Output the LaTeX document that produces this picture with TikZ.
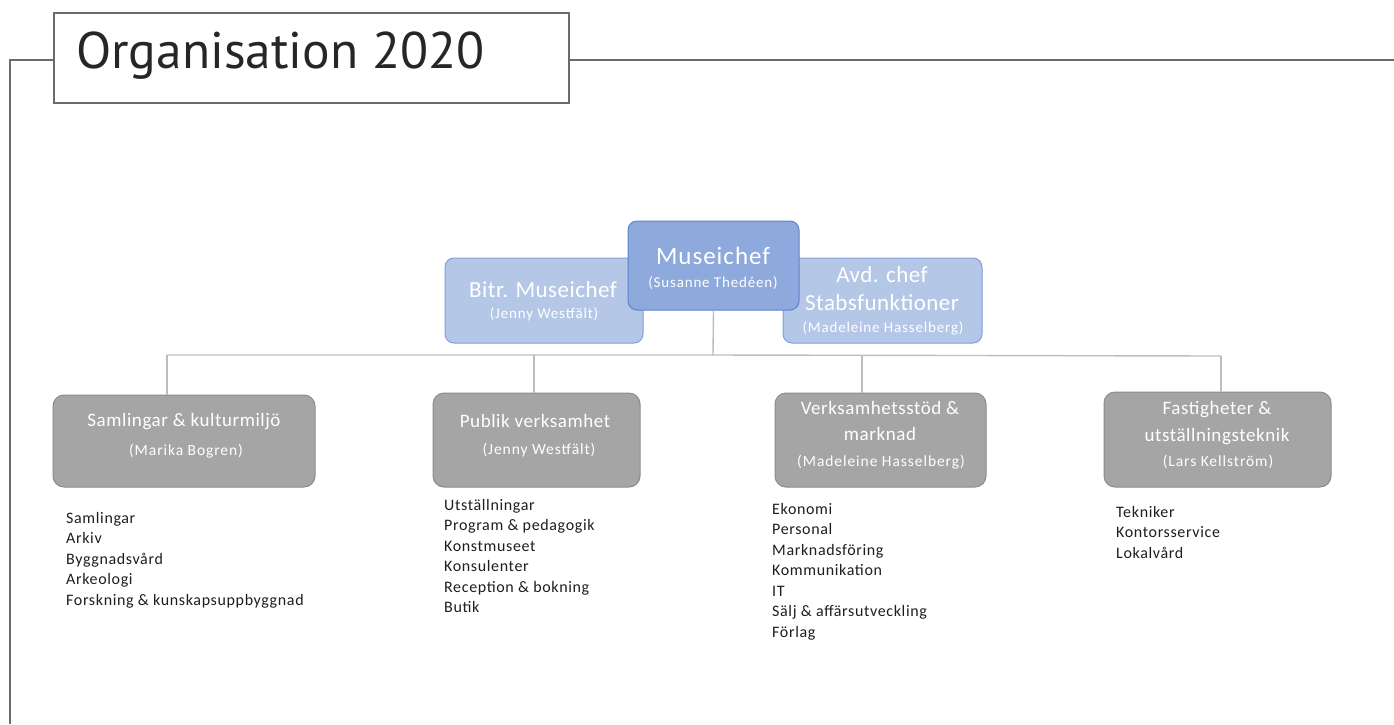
\documentclass[tikz,border=0pt]{standalone}
\usepackage{fontspec}
\setmainfont{Carlito}
\newfontfamily\titlefont{PT Sans}
\definecolor{framegray}{HTML}{6B6B6B}
\definecolor{linkgray}{HTML}{BDBDBD}
\definecolor{bluedark}{HTML}{8EA9DB}
\definecolor{bluedarkb}{HTML}{5B84CF}
\definecolor{bluelight}{HTML}{B4C7E7}
\definecolor{bluelightb}{HTML}{7F9FD8}
\definecolor{boxgray}{HTML}{A5A5A5}
\definecolor{boxgrayb}{HTML}{8C8C8C}
\definecolor{listtext}{HTML}{1E1E1E}
\tikzset{
  frameline/.style={draw=framegray, line width=2.2pt},
  link/.style={draw=linkgray, line width=1.4pt},
  bossbox/.style={draw=bluedarkb, fill=bluedark, line width=1pt, rounded corners=9pt, inner sep=0pt},
  deputybox/.style={draw=bluelightb, fill=bluelight, line width=1pt, rounded corners=9pt, inner sep=0pt},
  deptbox/.style={draw=boxgrayb, fill=boxgray, line width=1pt, rounded corners=11pt, inner sep=0pt},
  boxtext/.style={text=white, align=center, inner sep=0pt},
  bigname/.style={boxtext, font=\fontsize{23}{26}\selectfont\addfontfeature{LetterSpace=2}},
  bossname/.style={boxtext, font=\fontsize{25}{28}\selectfont\addfontfeature{LetterSpace=4}},
  smallname/.style={boxtext, font=\fontsize{15}{17}\selectfont\addfontfeature{LetterSpace=5.6}},
  depttitle/.style={boxtext, font=\fontsize{19}{22}\selectfont\addfontfeature{LetterSpace=3}},
  deptname/.style={boxtext, font=\fontsize{15.5}{17}\selectfont\addfontfeature{LetterSpace=6}},
  listnode/.style={anchor=north west, align=left, inner sep=0pt, text=listtext, font=\fontsize{16}{20.5}\selectfont\addfontfeature{LetterSpace=4}}
}
\begin{document}
\begin{tikzpicture}[x=1pt,y=-1pt]
\useasboundingbox (0,0) rectangle (1394,724);
\fill[white] (0,0) rectangle (1394,724);
% frame
\coordinate (fbl) at (10,724);
\coordinate (ftl) at (10,60);
\coordinate (fr) at (1394,60);
\node[draw=framegray, line width=2.2pt, fill=white, minimum width=515pt, minimum height=90pt, inner sep=0pt] (title) at (311.5,58) {};
\node[anchor=west, inner sep=0pt, font=\titlefont\fontsize{51.5}{56}\selectfont, text=black!85] (titletext) at (76,56) {Organisation 2020};
\draw[frameline] (fbl) -- (ftl) -- (title.west |- ftl);
\draw[frameline] (title.east |- fr) -- (fr);
% connector coordinates
\coordinate (j) at (713,355);
\coordinate (b1) at (167,355);
\coordinate (b2) at (534,355);
\coordinate (b3) at (862,356);
\coordinate (b4) at (1221,356);
% top boxes
\node[deputybox, minimum width=198pt, minimum height=85pt] (bitr) at (544,300.5) {};
\node[deputybox, minimum width=199pt, minimum height=85pt] (avd) at (882.5,300.5) {};
\node[bossbox, minimum width=171pt, minimum height=89pt] (mus) at (713.5,265.5) {};
\node[bigname] (bitrt) at (543,290) {Bitr. Museichef};
\node[smallname] (bitrn) at (544,314) {(Jenny Westfält)};
\node[bigname] (avdt1) at (882,275) {Avd. chef};
\node[bigname] (avdt2) at (882,303) {Stabsfunktioner};
\node[smallname] (avdn) at (883,328) {(Madeleine Hasselberg)};
\node[bossname] (must) at (713,256) {Museichef};
\node[smallname] (musn) at (713,283) {(Susanne Thedéen)};
% departments
\node[deptbox, minimum width=262pt, minimum height=92pt] (d1) at (184,441) {};
\node[deptbox, minimum width=207pt, minimum height=94pt] (d2) at (536.5,440) {};
\node[deptbox, minimum width=211pt, minimum height=94pt] (d3) at (880.5,440) {};
\node[deptbox, minimum width=227pt, minimum height=95pt] (d4) at (1217.5,439.5) {};
\draw[link] (mus.south) -- (j);
\draw[link] (b1) -- (j) -- (b4);
\draw[link] (b1) -- (b1 |- d1.north);
\draw[link] (b2) -- (b2 |- d2.north);
\draw[link] (b3) -- (b3 |- d3.north);
\draw[link] (b4) -- (b4 |- d4.north);
\node[depttitle] (d1t) at (184,422) {Samlingar \& kulturmiljö};
\node[deptname] (d1n) at (186,451) {(Marika Bogren)};
\node[depttitle] (d2t) at (535,421) {Publik verksamhet};
\node[deptname] (d2n) at (539,450) {(Jenny Westfält)};
\node[depttitle] (d3t1) at (880,408) {Verksamhetsstöd \&};
\node[depttitle] (d3t2) at (880,434) {marknad};
\node[deptname] (d3n) at (881,462) {(Madeleine Hasselberg)};
\node[depttitle] (d4t1) at (1217,410) {Fastigheter \&};
\node[depttitle] (d4t2) at (1217,437) {utställningsteknik};
\node[deptname] (d4n) at (1218,462) {(Lars Kellström)};
% lists
\node[listnode] (l1) at (66,512) {Samlingar\\Arkiv\\Byggnadsvård\\Arkeologi\\Forskning \& kunskapsuppbyggnad};
\node[listnode] (l2) at (444,499) {Utställningar\\Program \& pedagogik\\Konstmuseet\\Konsulenter\\Reception \& bokning\\Butik};
\node[listnode] (l3) at (772,503) {Ekonomi\\Personal\\Marknadsföring\\Kommunikation\\IT\\Sälj \& affärsutveckling\\Förlag};
\node[listnode] (l4) at (1116,506) {Tekniker\\Kontorsservice\\Lokalvård};
\end{tikzpicture}
\end{document}
